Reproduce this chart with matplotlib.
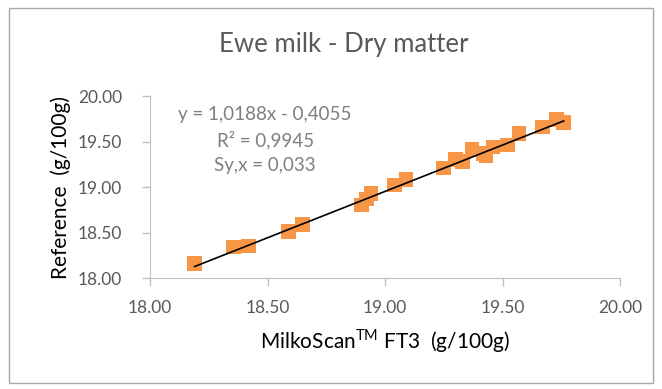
import matplotlib.pyplot as plt
import matplotlib.patches as patches
import numpy as np

# MilkoScan FT3 vs reference method, dry matter in ewe milk (g/100g)
milkoscan = [18.19, 18.355, 18.42, 18.59, 18.65, 18.90, 18.92, 18.94, 19.04, 19.09,
             19.25, 19.30, 19.33, 19.37, 19.42, 19.43, 19.46, 19.52, 19.57, 19.67,
             19.73, 19.76]
reference = [18.16, 18.34, 18.35, 18.51, 18.59, 18.80, 18.87, 18.93, 19.02, 19.08,
             19.21, 19.30, 19.28, 19.41, 19.37, 19.34, 19.44, 19.46, 19.59, 19.66,
             19.74, 19.71]
slope = 1.0188
intercept = -0.4055
eq_lines = ["y = 1,0188x - 0,4055", "R² = 0,9945", "Sy,x = 0,033"]
ticks = [18.0, 18.5, 19.0, 19.5, 20.0]
tick_labels = ["18.00", "18.50", "19.00", "19.50", "20.00"]

plt.rcParams['font.family'] = ['Lato', 'DejaVu Sans']

fig = plt.figure(figsize=(6.62, 3.89), dpi=100)
ax = fig.add_axes([0.2266, 0.2853, 0.71, 0.4679])

# chart area frame
fig.patches.append(patches.Rectangle((0.013, 0.015), 0.974, 0.965, transform=fig.transFigure,
                                     fill=False, edgecolor='#a6a6a6', linewidth=1.0))

ax.scatter(milkoscan, reference, marker='s', s=110, color='#f79646', edgecolors='none', zorder=2)

# linear trendline over the data range
xs = np.array([min(milkoscan), max(milkoscan)])
ax.plot(xs, slope * xs + intercept, color='black', linewidth=1.2, zorder=3)

ax.set_xlim(18, 20)
ax.set_ylim(18, 20)
ax.set_xticks(ticks)
ax.set_xticklabels(tick_labels)
ax.set_yticks(ticks)
ax.set_yticklabels(tick_labels)
ax.tick_params(labelsize=12.5, length=6, width=1, direction='out')
ax.tick_params(axis='x', colors='#bfbfbf', labelcolor='#595959', pad=10)
ax.tick_params(axis='y', colors='#bfbfbf', labelcolor='#595959', pad=14)
for s in ['top', 'right']:
    ax.spines[s].set_visible(False)
for s in ['left', 'bottom']:
    ax.spines[s].set_color('#bfbfbf')

ax.set_xlabel("MilkoScan$^{\\mathregular{TM}}$ FT3  (g/100g)", fontsize=15, color='black', labelpad=8)
ax.set_ylabel("Reference  (g/100g)", fontsize=15, color='black', labelpad=5)
fig.text(0.52, 0.885, "Ewe milk - Dry matter", ha='center', va='center', fontsize=18.5, color='#595959')

for i, line in enumerate(eq_lines):
    ax.text(18.49, 19.80 - i * 0.28, line, ha='center', va='center', fontsize=13.5, color='#7f7f7f')

fig.savefig('out.png', dpi=100)
